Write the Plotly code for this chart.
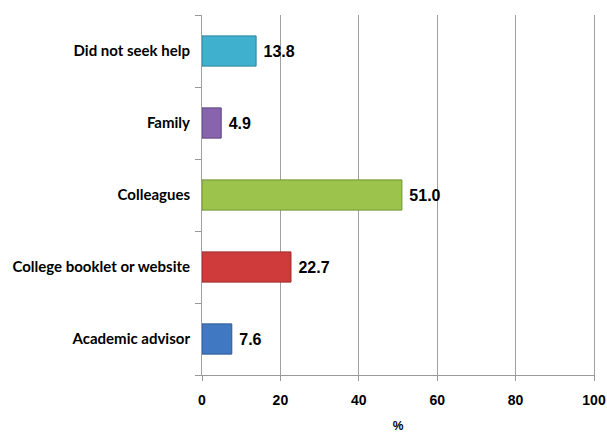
import plotly.graph_objects as go

categories = ["Academic advisor", "College booklet or website", "Colleagues", "Family", "Did not seek help"]
values = [7.6, 22.7, 51.0, 4.9, 13.8]
colors = ["#4079c2", "#cf3b3b", "#9cc44c", "#8764ad", "#3fb1cf"]
edge_colors = ["#2b5a96", "#9e2a2a", "#6f9233", "#5e4580", "#2a84a0"]
x_ticks = [0, 20, 40, 60, 80, 100]

fig = go.Figure(go.Bar(
    y=categories, x=values, orientation="h",
    marker=dict(color=colors, line=dict(color=edge_colors, width=1)),
    width=0.42,
    text=[f"{v:.1f}" for v in values],
    textposition="outside",
    textfont=dict(family="Liberation Sans", size=16, color="black"),
    texttemplate="<b> %{text}</b>",
    cliponaxis=False,
))

fig.update_layout(
    width=607, height=433,
    margin=dict(l=202, r=13, t=15, b=58),
    paper_bgcolor="white", plot_bgcolor="white",
    showlegend=False,
    xaxis=dict(
        range=[0, 100], tickvals=x_ticks,
        ticktext=[f"<b>{t}</b>" for t in x_ticks],
        tickfont=dict(family="Liberation Sans", size=14, color="black"),
        showgrid=True, gridcolor="#a0a0a0", gridwidth=1,
        showline=True, linecolor="#999999", linewidth=1,
        ticks="outside", ticklen=5, tickcolor="#999999",
        ticklabelstandoff=7,
        zeroline=False, automargin=False,
        title=dict(text="<b>%</b>", font=dict(family="Liberation Sans", size=12, color="black"), standoff=17),
    ),
    yaxis=dict(
        categoryorder="array", categoryarray=categories,
        tickvals=categories,
        ticktext=[f"<b>{c}</b>" for c in categories],
        tickfont=dict(family="Lato", size=15, color="black"),
        showline=True, linecolor="#a0a0a0", linewidth=1, mirror=True,
        ticks="outside", ticklen=6, tickcolor="#999999",
        tickson="boundaries", showgrid=False,
        ticklabelstandoff=8, automargin=False,
    ),
)

fig.write_html("out.html")
